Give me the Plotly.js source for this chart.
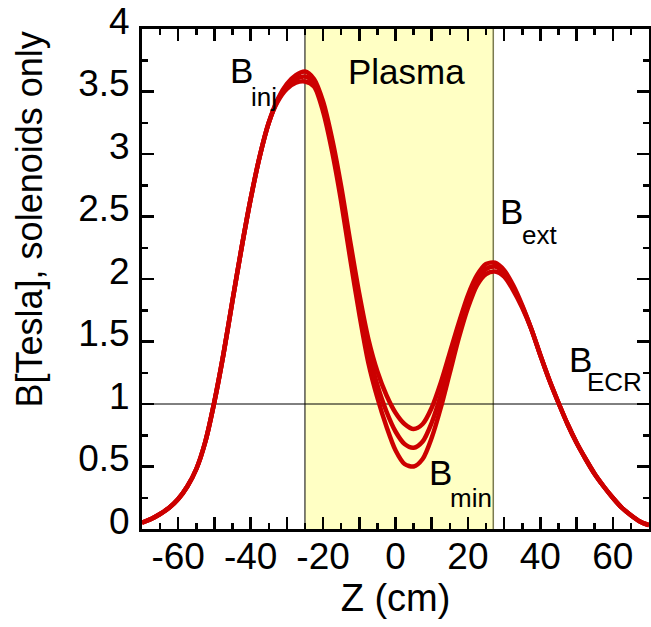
<!DOCTYPE html>
<html>
<head>
<meta charset="utf-8">
<script src="https://cdn.plot.ly/plotly-3.0.1.min.js"></script>
<style>html,body{margin:0;padding:0;background:#fff;}#chart{width:651px;height:627px;}</style>
</head>
<body>
<div id="chart"></div>
<script>
// Z positions (cm)
const z = [-70,-67.5,-65,-62.5,-60,-57.5,-55,-52.5,-50,-47.5,-45,-42.5,-40,-37.5,-35,-32.5,-30,-27.5,-25,-22.5,-20,-17.5,-15,-12.5,-10,-7.5,-5,-2.5,0,2.5,5,7.5,10,12.5,15,17.5,20,22.5,25,27.5,30,32.5,35,37.5,40,42.5,45,47.5,50,52.5,55,57.5,60,62.5,65,67.5,70];
// B field (Tesla), three solenoid settings (Bmin ~0.80, ~0.65, ~0.50)
const bHigh = [0.05,0.08,0.12,0.17,0.24,0.34,0.48,0.70,1.02,1.40,1.83,2.25,2.64,2.98,3.25,3.44,3.56,3.63,3.66,3.60,3.42,3.12,2.74,2.30,1.88,1.52,1.26,1.07,0.93,0.84,0.80,0.84,0.97,1.17,1.41,1.65,1.87,2.03,2.12,2.13,2.07,1.95,1.79,1.60,1.39,1.19,1.01,0.84,0.69,0.56,0.44,0.34,0.25,0.17,0.11,0.06,0.03];
const bMid  = [0.05,0.08,0.12,0.17,0.24,0.34,0.48,0.70,1.02,1.40,1.83,2.25,2.64,2.98,3.25,3.43,3.54,3.60,3.62,3.57,3.38,3.07,2.68,2.23,1.80,1.42,1.15,0.94,0.78,0.68,0.65,0.70,0.85,1.07,1.33,1.59,1.82,1.99,2.08,2.10,2.05,1.93,1.78,1.60,1.39,1.19,1.01,0.84,0.69,0.56,0.44,0.34,0.25,0.17,0.11,0.06,0.03];
const bLow  = [0.05,0.08,0.12,0.17,0.24,0.34,0.48,0.70,1.02,1.40,1.83,2.25,2.64,2.98,3.25,3.42,3.52,3.57,3.58,3.54,3.34,3.02,2.62,2.16,1.72,1.33,1.05,0.82,0.63,0.52,0.50,0.56,0.73,0.97,1.25,1.53,1.77,1.95,2.04,2.06,2.02,1.91,1.77,1.60,1.39,1.19,1.01,0.84,0.69,0.56,0.44,0.34,0.25,0.17,0.11,0.06,0.03];
const series = [bHigh, bMid, bLow];
// plasma chamber region and ECR field
const plasmaZ = [-25, 27];
const bEcr = [1];
const xTicks = [-60,-50,-40,-30,-20,-10,0,10,20,30,40,50,60];
const xTickText = ['-60','','-40','','-20','','0','','20','','40','','60'];
const yTicks = [0,0.5,1,1.5,2,2.5,3,3.5,4];
const yTickText = ['0','0.5','1','1.5','2','2.5','3','3.5','4'];

const red = 'rgb(204,0,0)';
const traces = series.map(b => ({
  x: z, y: b, type: 'scatter', mode: 'lines',
  line: {color: red, width: 4.5, shape: 'spline', smoothing: 0.8},
  hoverinfo: 'x+y', showlegend: false
}));

const font = 'Liberation Sans, Arial, sans-serif';
const axBase = {
  showgrid: false, zeroline: false, showline: true, linecolor: '#000', linewidth: 3,
  mirror: 'ticks', ticks: 'inside', ticklen: 12, tickwidth: 2.5, tickcolor: '#000',
  tickfont: {family: font, size: 37, color: '#000'}
};
const layout = {
  width: 651, height: 627,
  margin: {l: 142, r: 2, t: 29, b: 98},
  paper_bgcolor: '#fff', plot_bgcolor: '#fff',
  showlegend: false,
  xaxis: Object.assign({}, axBase, {
    range: [-70, 70], tickmode: 'array', tickvals: xTicks, ticktext: xTickText,
    minor: {dtick: 5, tick0: 0, ticks: 'inside', ticklen: 6, tickwidth: 2.5, tickcolor: '#000'},
    ticklabelstandoff: -7,
    title: {text: 'Z (cm)', font: {family: font, size: 38, color: '#000'}, standoff: 3}
  }),
  yaxis: Object.assign({}, axBase, {
    range: [0, 4], tickmode: 'array', tickvals: yTicks, ticktext: yTickText,
    minor: {dtick: 0.25, tick0: 0, ticks: 'inside', ticklen: 6, tickwidth: 2.5, tickcolor: '#000'},
    ticklabelshift: -8, ticklabelstandoff: 2
  }),
  shapes: [
    {type: 'rect', xref: 'x', yref: 'paper', x0: plasmaZ[0], x1: plasmaZ[1], y0: 0, y1: 1,
     fillcolor: 'rgb(255,255,196)', line: {width: 0}, layer: 'below'},
    {type: 'line', xref: 'x', yref: 'paper', x0: plasmaZ[0], x1: plasmaZ[0], y0: 0, y1: 1,
     line: {color: '#000', width: 1}, layer: 'below'},
    {type: 'line', xref: 'x', yref: 'paper', x0: plasmaZ[1], x1: plasmaZ[1], y0: 0, y1: 1,
     line: {color: '#7a7a50', width: 1.5}, layer: 'below'},
    {type: 'line', xref: 'paper', yref: 'y', x0: 0, x1: 1, y0: bEcr[0], y1: bEcr[0],
     line: {color: '#000', width: 1}, layer: 'below'}
  ],
  annotations: [
    {text: 'B[Tesla], solenoids only', textangle: -90, xref: 'paper', yref: 'paper',
     x: -0.222, y: 0.62, xanchor: 'center', yanchor: 'middle', showarrow: false,
     font: {family: font, size: 36, color: '#000'}},
    {text: 'Plasma', x: 3.0, y: 3.66, showarrow: false, font: {family: font, size: 35, color: '#000'}},
    {text: 'B', x: -42.4, y: 3.67, showarrow: false, font: {family: font, size: 35, color: '#000'}},
    {text: 'inj', x: -36.2, y: 3.46, showarrow: false, font: {family: font, size: 26, color: '#000'}},
    {text: 'B', x: 32.0, y: 2.54, showarrow: false, font: {family: font, size: 35, color: '#000'}},
    {text: 'ext', x: 39.7, y: 2.35, showarrow: false, font: {family: font, size: 26, color: '#000'}},
    {text: 'B', x: 51.0, y: 1.36, showarrow: false, font: {family: font, size: 35, color: '#000'}},
    {text: 'ECR', x: 60.6, y: 1.18, showarrow: false, font: {family: font, size: 26, color: '#000'}},
    {text: 'B', x: 12.4, y: 0.45, showarrow: false, font: {family: font, size: 35, color: '#000'}},
    {text: 'min', x: 20.9, y: 0.25, showarrow: false, font: {family: font, size: 26, color: '#000'}}
  ]
};
Plotly.newPlot('chart', traces, layout, {displayModeBar: false, staticPlot: true});
</script>
</body>
</html>
